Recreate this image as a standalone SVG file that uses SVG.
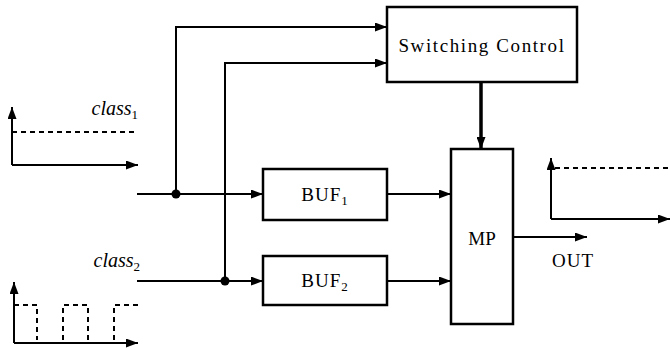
<svg xmlns="http://www.w3.org/2000/svg" width="670" height="350" viewBox="0 0 670 350">
<style>
.box{fill:#fff;stroke:#000;stroke-width:2.5}
.ln{fill:none;stroke:#000;stroke-width:2}
.dash{fill:none;stroke:#000;stroke-width:2;stroke-dasharray:5 4}
.t{font-family:'Liberation Serif','Times New Roman',serif;font-size:19px;fill:#000}
.it{font-family:'Liberation Serif','Times New Roman',serif;font-size:20px;font-style:italic;fill:#000}
</style>
<defs>
<marker id="ah" viewBox="0 0 12 9" refX="12" refY="4.5" markerWidth="12" markerHeight="9" markerUnits="userSpaceOnUse" orient="auto">
<path d="M0,0 L12,4.5 L0,9 Z" fill="#000"/>
</marker>
</defs>
<rect width="670" height="350" fill="#fff"/>

<g id="class1-graph">
<path class="ln" d="M12,165 H138" marker-end="url(#ah)"/>
<path class="ln" d="M12,165 V107" marker-end="url(#ah)"/>
<path class="dash" d="M12,132 H138"/>
<text class="it" x="138" y="115" text-anchor="end">class<tspan font-size="13" font-style="normal" dy="4">1</tspan></text>
</g>

<g id="class2-graph">
<path class="ln" d="M14,343 H138" marker-end="url(#ah)"/>
<path class="ln" d="M14,343 V282" marker-end="url(#ah)"/>
<path class="dash" d="M14,305 H37 V340 M63,340 V305 H88 V340 M114,340 V305 H138"/>
<text class="it" x="140" y="267" text-anchor="end">class<tspan font-size="13" font-style="normal" dy="4">2</tspan></text>
</g>

<g id="out-graph">
<path class="ln" d="M551,219 H670" marker-end="url(#ah)"/>
<path class="ln" d="M551,219 V158" marker-end="url(#ah)"/>
<path class="dash" d="M555,168 H670"/>
</g>

<g id="switching-control">
<rect class="box" x="387" y="7" width="190" height="75"/>
<text class="t" x="482" y="52" text-anchor="middle" font-size="18" letter-spacing="1.6">Switching Control</text>
</g>

<g id="buf1">
<rect class="box" x="263" y="169" width="124" height="51"/>
<text class="t" x="325" y="201" text-anchor="middle" letter-spacing="1">BUF<tspan font-size="13" dy="4">1</tspan></text>
</g>

<g id="buf2">
<rect class="box" x="263" y="256" width="124" height="49"/>
<text class="t" x="325" y="287" text-anchor="middle" letter-spacing="1">BUF<tspan font-size="13" dy="4">2</tspan></text>
</g>

<g id="mp">
<rect class="box" x="451" y="149" width="62" height="175"/>
<text class="t" x="482" y="245" text-anchor="middle">MP</text>
</g>

<g id="out-label">
<text class="t" x="552" y="267" letter-spacing="1">OUT</text>
</g>

<g id="connectors">
<path class="ln" d="M137,194 H263" marker-end="url(#ah)"/>
<path class="ln" d="M137,281 H263" marker-end="url(#ah)"/>
<path class="ln" d="M176,194 V27 H387" marker-end="url(#ah)"/>
<path class="ln" d="M225,281 V63 H387" marker-end="url(#ah)"/>
<circle cx="176" cy="194" r="4.5" fill="#000"/>
<circle cx="225" cy="281" r="4.5" fill="#000"/>
<path class="ln" d="M387,194 H451" marker-end="url(#ah)"/>
<path class="ln" d="M387,281 H451" marker-end="url(#ah)"/>
<path class="ln" style="stroke-width:3.5" d="M481,82 V149" marker-end="url(#ah)"/>
<path class="ln" d="M513,237 H587" marker-end="url(#ah)"/>
</g>
</svg>
